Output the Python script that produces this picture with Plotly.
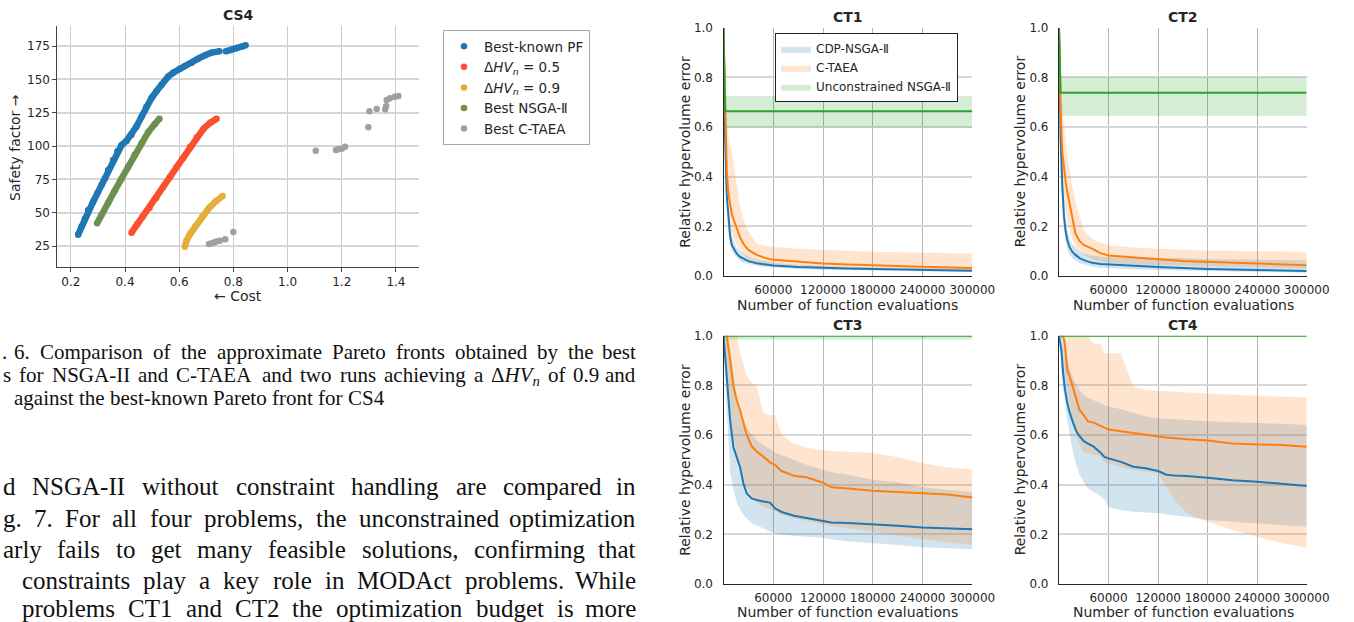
import plotly.graph_objects as go

W, H = 1354, 622

# ---------------- CS4 scatter data ----------------
pf_cost = [0.227, 0.239, 0.252, 0.264, 0.282, 0.298, 0.313, 0.326, 0.338, 0.356, 0.372, 0.387,
           0.406, 0.424, 0.442, 0.461, 0.479, 0.498, 0.516, 0.535, 0.559, 0.578, 0.602, 0.621,
           0.646, 0.670, 0.695, 0.719, 0.748, None, 0.772, 0.790, 0.812, 0.830, 0.845]
pf_safety = [33.5, 39.5, 45.5, 52, 58, 64.5, 70.5, 75.5, 82, 89.5, 96, 100.5,
             104, 108.5, 114.5, 122, 129.5, 136, 141, 146, 152, 155, 158, 160,
             162.5, 165.5, 168, 170, 171, None, 171, 172, 173.5, 174.5, 175.5]

hv05_cost = [0.424, 0.445, 0.465, 0.49, 0.515, 0.54, 0.565, 0.59, 0.615, 0.64, 0.665, 0.69, 0.715, 0.738]
hv05_safety = [35, 41.5, 47, 53.5, 61, 69, 76.5, 84, 91, 99.5, 106.5, 113, 117.5, 120.5]

hv09_cost = [0.621, 0.627, 0.64, 0.66, 0.685, 0.71, 0.735, 0.76]
hv09_safety = [24.5, 29, 34, 40, 47, 53.5, 58.5, 62.5]

nsga_cost = [0.297, 0.313, 0.338, 0.362, 0.387, 0.412, 0.436, 0.461, 0.486, 0.510, 0.527]
nsga_safety = [42, 48.5, 57.5, 66.5, 75.5, 84.5, 93.5, 102, 110.5, 116.5, 120.5]

ctaea_cost = [0.71, 0.72, 0.73, 0.74, 0.75, 0.77, 0.80, 1.104, 1.179, 1.187, 1.20, 1.212,
              1.298, 1.302, 1.329, 1.36, 1.364, 1.366, 1.378, 1.396, 1.409]
ctaea_safety = [26.5, 27, 27.8, 28.5, 29, 30, 35.5, 96.5, 97, 97.5, 98, 99.5,
                114, 126, 127.75, 127.5, 130, 134.5, 135.75, 137, 137.5]

cs4_xticks = [0.2, 0.4, 0.6, 0.8, 1.0, 1.2, 1.4]
cs4_xticklabels = ["0.2", "0.4", "0.6", "0.8", "1.0", "1.2", "1.4"]
cs4_yticks = [25, 50, 75, 100, 125, 150, 175]

# ---------------- CT convergence data ----------------
ct_xticks = [60000, 120000, 180000, 240000, 300000]
ct_xticklabels = ["60000", "120000", "180000", "240000", "300000"]
ct_yticks = [0.0, 0.2, 0.4, 0.6, 0.8, 1.0]
ct_yticklabels = ["0.0", "0.2", "0.4", "0.6", "0.8", "1.0"]

ct1_evals = [0, 2000, 4000, 6000, 8000, 10000, 13000, 16000, 20000, 25000, 30000, 40000,
             50000, 60000, 90000, 120000, 150000, 180000, 240000, 300000]
ct1_cdp = [1.0, 0.55, 0.32, 0.22, 0.16, 0.125, 0.105, 0.09, 0.077, 0.067, 0.06, 0.051,
           0.045, 0.042, 0.036, 0.032, 0.030, 0.028, 0.024, 0.021]
ct1_cdp_hi = [1.0, 0.62, 0.38, 0.27, 0.2, 0.16, 0.135, 0.115, 0.1, 0.088, 0.078, 0.066,
              0.058, 0.053, 0.045, 0.04, 0.037, 0.035, 0.031, 0.028]
ct1_cdp_lo = [1.0, 0.48, 0.27, 0.18, 0.13, 0.1, 0.085, 0.072, 0.06, 0.052, 0.047, 0.04,
              0.036, 0.033, 0.028, 0.025, 0.023, 0.021, 0.018, 0.016]
ct1_ctaea = [1.0, 0.66, 0.42, 0.33, 0.28, 0.25, 0.22, 0.19, 0.155, 0.125, 0.105, 0.085,
             0.073, 0.065, 0.056, 0.05, 0.046, 0.042, 0.037, 0.032]
ct1_ctaea_hi = [1.0, 0.72, 0.62, 0.56, 0.52, 0.5, 0.44, 0.37, 0.28, 0.22, 0.18, 0.13,
                0.122, 0.118, 0.11, 0.107, 0.102, 0.098, 0.094, 0.091]
ct1_ctaea_lo = [1.0, 0.6, 0.35, 0.25, 0.2, 0.17, 0.145, 0.125, 0.1, 0.085, 0.07, 0.058,
                0.05, 0.046, 0.04, 0.036, 0.033, 0.03, 0.026, 0.023]
ct1_unc_evals = [0, 2000, 300000]
ct1_unc = [1.0, 0.664, 0.664]
ct1_unc_band_evals = [2000, 300000]
ct1_unc_hi = [0.725, 0.725]
ct1_unc_lo = [0.597, 0.597]

ct2_evals = [0, 2000, 4000, 6000, 8000, 10000, 13000, 16000, 20000, 25000, 30000, 40000,
             50000, 60000, 90000, 120000, 150000, 180000, 240000, 300000]
ct2_cdp = [1.0, 0.55, 0.36, 0.24, 0.18, 0.145, 0.115, 0.098, 0.085, 0.072, 0.064, 0.053,
           0.048, 0.046, 0.04, 0.036, 0.032, 0.028, 0.024, 0.02]
ct2_cdp_hi = [1.0, 0.6, 0.42, 0.3, 0.23, 0.19, 0.15, 0.13, 0.115, 0.1, 0.092, 0.083,
              0.079, 0.077, 0.075, 0.074, 0.072, 0.068, 0.065, 0.063]
ct2_cdp_lo = [1.0, 0.5, 0.3, 0.2, 0.14, 0.11, 0.085, 0.072, 0.062, 0.052, 0.045, 0.037,
              0.033, 0.031, 0.027, 0.024, 0.021, 0.019, 0.016, 0.013]
ct2_ctaea = [1.0, 0.66, 0.5, 0.43, 0.38, 0.34, 0.29, 0.23, 0.17, 0.14, 0.125, 0.11,
             0.092, 0.083, 0.074, 0.067, 0.06, 0.056, 0.05, 0.043]
ct2_ctaea_hi = [1.0, 0.74, 0.69, 0.6, 0.54, 0.49, 0.42, 0.36, 0.3, 0.24, 0.185, 0.15,
                0.135, 0.124, 0.115, 0.11, 0.106, 0.103, 0.1, 0.097]
ct2_ctaea_lo = [1.0, 0.6, 0.4, 0.32, 0.26, 0.22, 0.18, 0.15, 0.12, 0.1, 0.085, 0.068,
                0.058, 0.052, 0.046, 0.043, 0.04, 0.038, 0.034, 0.03]
ct2_unc_evals = [0, 2000, 300000]
ct2_unc = [1.0, 0.738, 0.738]
ct2_unc_band_evals = [2000, 300000]
ct2_unc_hi = [0.8, 0.8]
ct2_unc_lo = [0.645, 0.645]

ct3_evals = [0, 4000, 8000, 12000, 16000, 20000, 24000, 28000, 34000, 40000, 48000, 56000,
             62000, 70000, 85000, 100000, 120000, 130000, 150000, 180000, 210000, 240000,
             270000, 300000]
ct3_cdp = [1.0, 0.81, 0.66, 0.55, 0.51, 0.47, 0.405, 0.365, 0.345, 0.338, 0.332, 0.328,
           0.305, 0.29, 0.275, 0.266, 0.252, 0.248, 0.246, 0.242, 0.235, 0.228, 0.224, 0.22]
ct3_cdp_hi = [1.0, 1.0, 0.95, 0.85, 0.75, 0.7, 0.66, 0.63, 0.6, 0.58, 0.56, 0.545,
              0.53, 0.52, 0.5, 0.48, 0.46, 0.45, 0.44, 0.42, 0.41, 0.39, 0.38, 0.372]
ct3_cdp_lo = [1.0, 0.7, 0.45, 0.38, 0.33, 0.3, 0.28, 0.265, 0.245, 0.235, 0.225, 0.21,
              0.204, 0.198, 0.193, 0.19, 0.185, 0.18, 0.172, 0.164, 0.157, 0.148, 0.143, 0.14]
ct3_ctaea = [1.0, 1.0, 0.9, 0.795, 0.74, 0.7, 0.65, 0.6, 0.555, 0.533, 0.513, 0.49,
             0.48, 0.455, 0.436, 0.43, 0.408, 0.39, 0.385, 0.376, 0.371, 0.365, 0.36, 0.348]
ct3_ctaea_hi = [1.0, 1.0, 1.0, 1.0, 1.0, 0.93, 0.88, 0.84, 0.81, 0.8, 0.69, 0.68,
                0.68, 0.6, 0.566, 0.55, 0.54, 0.535, 0.533, 0.529, 0.51, 0.486, 0.47, 0.462]
ct3_ctaea_lo = [1.0, 0.85, 0.7, 0.6, 0.52, 0.47, 0.42, 0.39, 0.35, 0.33, 0.31, 0.3,
                0.295, 0.28, 0.265, 0.255, 0.24, 0.235, 0.225, 0.21, 0.195, 0.18, 0.168, 0.157]
ct3_unc_evals = [0, 300000]
ct3_unc = [1.0, 1.0]
ct3_unc_hi = [1.0, 1.0]
ct3_unc_lo = [0.985, 0.985]

ct4_evals = [0, 3000, 5000, 7000, 10000, 13000, 17000, 21000, 25000, 30000, 35000, 42000,
             50000, 55000, 60000, 75000, 90000, 105000, 120000, 130000, 140000, 155000,
             180000, 210000, 240000, 270000, 300000]
ct4_cdp = [1.0, 0.94, 0.85, 0.79, 0.73, 0.69, 0.65, 0.615, 0.595, 0.575, 0.565, 0.553,
           0.53, 0.512, 0.506, 0.492, 0.472, 0.466, 0.455, 0.44, 0.437, 0.435,
           0.428, 0.418, 0.412, 0.403, 0.395]
ct4_cdp_hi = [1.0, 1.0, 1.0, 0.97, 0.92, 0.87, 0.83, 0.8, 0.78, 0.76, 0.75, 0.74,
              0.727, 0.72, 0.714, 0.705, 0.69, 0.675, 0.668, 0.665, 0.662, 0.66,
              0.655, 0.652, 0.65, 0.645, 0.64]
ct4_cdp_lo = [1.0, 0.85, 0.78, 0.74, 0.66, 0.6, 0.53, 0.48, 0.44, 0.41, 0.385, 0.372,
              0.355, 0.34, 0.31, 0.298, 0.291, 0.288, 0.285, 0.28, 0.275, 0.27,
              0.258, 0.25, 0.244, 0.237, 0.231]
ct4_ctaea = [1.0, 1.0, 1.0, 0.97, 0.86, 0.835, 0.79, 0.75, 0.7, 0.68, 0.655, 0.65,
             0.636, 0.63, 0.622, 0.615, 0.607, 0.598, 0.594, 0.59, 0.587, 0.583,
             0.578, 0.566, 0.562, 0.56, 0.553]
ct4_ctaea_hi = [1.0, 1.0, 1.0, 1.0, 1.0, 1.0, 1.0, 1.0, 1.0, 1.0, 1.0, 0.969,
                0.969, 0.929, 0.929, 0.929, 0.794, 0.78, 0.778, 0.776, 0.774, 0.772,
                0.768, 0.762, 0.758, 0.755, 0.752]
ct4_ctaea_lo = [1.0, 1.0, 1.0, 0.85, 0.78, 0.72, 0.66, 0.6, 0.56, 0.53, 0.525, 0.52,
                0.515, 0.49, 0.483, 0.47, 0.459, 0.452, 0.446, 0.392, 0.338, 0.284,
                0.251, 0.217, 0.19, 0.164, 0.146]
ct4_unc_evals = [0, 300000]
ct4_unc = [1.0, 1.0]
ct4_unc_hi = [1.0, 1.0]
ct4_unc_lo = [0.994, 0.994]

# ---------------- text of the page ----------------
caption_lines = [
    "6.  Comparison of the approximate Pareto fronts obtained by the best",
    "s for NSGA-II and C-TAEA and two runs achieving a ΔHVn of 0.9 and",
    "against the best-known Pareto front for CS4",
]
body_lines = [
    "d NSGA-II without constraint handling are compared in",
    "g. 7. For all four problems, the unconstrained optimization",
    "arly fails to get many feasible solutions, confirming that",
    "constraints play a key role in MODAct problems. While",
    "problems CT1 and CT2 the optimization budget is more",
]

# ---------------- colours ----------------
C_BLUE, C_ORANGE, C_GREEN = "#1f77b4", "#ff7f0e", "#2ca02c"
F_BLUE, F_ORANGE, F_GREEN = "rgba(31,119,180,0.2)", "rgba(255,127,14,0.2)", "rgba(44,160,44,0.2)"
CS_BLUE, CS_RED, CS_YELLOW, CS_GREEN, CS_GRAY = "#1f77b4", "#fc4f30", "#e5ae38", "#6d904f", "#a0a0a0"
TXT = "#262626"


def px_x(p):
    return p / W


def px_y(p):
    return 1 - p / H


fig = go.Figure()

# ---------------- CS4 ----------------
cs4_series = [
    ("Best-known PF", pf_cost, pf_safety, CS_BLUE),
    ("Δ<i>HV</i><sub><i>n</i></sub> = 0.5", hv05_cost, hv05_safety, CS_RED),
    ("Δ<i>HV</i><sub><i>n</i></sub> = 0.9", hv09_cost, hv09_safety, CS_YELLOW),
    ("Best NSGA-Ⅱ", nsga_cost, nsga_safety, CS_GREEN),
]
for name, xs, ys, col in cs4_series:
    fig.add_trace(go.Scatter(x=xs, y=ys, mode="lines", line=dict(color=col, width=6.5),
                             showlegend=False, hoverinfo="skip", xaxis="x", yaxis="y"))
    fig.add_trace(go.Scatter(x=xs, y=ys, mode="markers", name=name,
                             marker=dict(color=col, size=6.5, line=dict(width=0)),
                             legend="legend", xaxis="x", yaxis="y"))
fig.add_trace(go.Scatter(x=ctaea_cost, y=ctaea_safety, mode="markers", name="Best C-TAEA",
                         marker=dict(color=CS_GRAY, size=6.5, line=dict(width=0)),
                         legend="legend", xaxis="x", yaxis="y"))

# ---------------- CT panels ----------------
def band(xs, lo, hi, fill, xa, ya, name=None, show=False):
    fig.add_trace(go.Scatter(x=list(xs) + list(xs)[::-1], y=list(hi) + list(lo)[::-1],
                             fill="toself", fillcolor=fill, line=dict(width=0), mode="lines",
                             hoverinfo="skip", name=name, showlegend=show, legend="legend2",
                             xaxis=xa, yaxis=ya))


def line(xs, ys, col, xa, ya):
    fig.add_trace(go.Scatter(x=xs, y=ys, mode="lines", line=dict(color=col, width=2),
                             showlegend=False, hoverinfo="skip", xaxis=xa, yaxis=ya))


panels = [
    ("x2", "y2", ct1_evals, ct1_cdp, ct1_cdp_lo, ct1_cdp_hi, ct1_ctaea, ct1_ctaea_lo, ct1_ctaea_hi,
     ct1_unc_evals, ct1_unc, ct1_unc_band_evals, ct1_unc_lo, ct1_unc_hi, True),
    ("x3", "y3", ct2_evals, ct2_cdp, ct2_cdp_lo, ct2_cdp_hi, ct2_ctaea, ct2_ctaea_lo, ct2_ctaea_hi,
     ct2_unc_evals, ct2_unc, ct2_unc_band_evals, ct2_unc_lo, ct2_unc_hi, False),
    ("x4", "y4", ct3_evals, ct3_cdp, ct3_cdp_lo, ct3_cdp_hi, ct3_ctaea, ct3_ctaea_lo, ct3_ctaea_hi,
     ct3_unc_evals, ct3_unc, ct3_unc_evals, ct3_unc_lo, ct3_unc_hi, False),
    ("x5", "y5", ct4_evals, ct4_cdp, ct4_cdp_lo, ct4_cdp_hi, ct4_ctaea, ct4_ctaea_lo, ct4_ctaea_hi,
     ct4_unc_evals, ct4_unc, ct4_unc_evals, ct4_unc_lo, ct4_unc_hi, False),
]
for (xa, ya, ev, cdp, cdp_lo, cdp_hi, ct, ct_lo, ct_hi, uev, unc, ubev, u_lo, u_hi, leg) in panels:
    band(ev, cdp_lo, cdp_hi, F_BLUE, xa, ya, "CDP-NSGA-Ⅱ", leg)
    band(ev, ct_lo, ct_hi, F_ORANGE, xa, ya, "C-TAEA", leg)
    band(ubev, u_lo, u_hi, F_GREEN, xa, ya, "Unconstrained NSGA-Ⅱ", leg)
    line(ev, cdp, C_BLUE, xa, ya)
    line(ev, ct, C_ORANGE, xa, ya)
    line(uev, unc, C_GREEN, xa, ya)

# ---------------- axes ----------------
tickfont = dict(family="DejaVu Sans", size=12, color=TXT)
layout_axes = {}
layout_axes["xaxis"] = dict(domain=[px_x(57), px_x(419)], range=[0.149, 1.485], anchor="y",
                            tickvals=cs4_xticks, ticktext=cs4_xticklabels, showgrid=True,
                            gridcolor="#cccccc", gridwidth=1, showline=True, linecolor="#444444",
                            linewidth=1.3, ticks="outside", ticklen=3.5, tickcolor="#444444",
                            tickfont=tickfont, zeroline=False, fixedrange=True, automargin=False)
layout_axes["yaxis"] = dict(domain=[px_y(267), px_y(26)], range=[9.25, 190], anchor="x",
                            tickvals=cs4_yticks, showgrid=True, gridcolor="#d6d6d6", gridwidth=1.6,
                            showline=True, linecolor="#444444", linewidth=1.3, ticks="outside",
                            ticklen=3.5, tickcolor="#444444", tickfont=tickfont, zeroline=False,
                            fixedrange=True, automargin=False)
ct_geom = {
    "2": ([723.5, 972.3], [276, 27.7]),
    "3": ([1059, 1306.7], [276, 27.7]),
    "4": ([723.5, 972.3], [584, 335.7]),
    "5": ([1059, 1306.7], [584, 335.7]),
}
for k, (xd, yd) in ct_geom.items():
    layout_axes["xaxis" + k] = dict(domain=[px_x(xd[0]), px_x(xd[1])], range=[0, 300000],
                                    anchor="y" + k, tickvals=ct_xticks, ticktext=ct_xticklabels,
                                    showgrid=True, gridcolor="#b5b5b5", gridwidth=1, showline=True,
                                    linecolor="#262626", linewidth=1.2, ticks="", tickfont=tickfont,
                                    ticklabelstandoff=2, zeroline=False, fixedrange=True,
                                    automargin=False)
    layout_axes["yaxis" + k] = dict(domain=[px_y(yd[0]), px_y(yd[1])], range=[0, 1],
                                    anchor="x" + k, tickvals=ct_yticks, ticktext=ct_yticklabels,
                                    showgrid=True, gridcolor="#d6d6d6", gridwidth=1.6, showline=True,
                                    linecolor="#262626", linewidth=1.2, ticks="", tickfont=tickfont,
                                    ticklabelstandoff=7, zeroline=False, fixedrange=True,
                                    automargin=False)

# ---------------- annotations: titles & labels ----------------
ann = []
for txt, cx, cy in [("CS4", 238, 15), ("CT1", 848, 17), ("CT2", 1183, 17),
                    ("CT3", 848, 325), ("CT4", 1183, 325)]:
    ann.append(dict(text="<b>%s</b>" % txt, x=px_x(cx), y=px_y(cy), xref="paper", yref="paper",
                    showarrow=False, xanchor="center", yanchor="middle",
                    font=dict(family="DejaVu Sans", size=14, color=TXT)))
lab_font = dict(family="DejaVu Sans", size=14, color=TXT)
ann.append(dict(text="← Cost", x=px_x(238), y=px_y(296), xref="paper", yref="paper",
                showarrow=False, xanchor="center", yanchor="middle", font=lab_font))
ann.append(dict(text="Safety factor →", x=px_x(15), y=px_y(148), xref="paper", yref="paper",
                showarrow=False, xanchor="center", yanchor="middle", textangle=-90, font=lab_font))
for cx, cy in [(848, 305), (1183, 305), (848, 612), (1183, 612)]:
    ann.append(dict(text="Number of function evaluations", x=px_x(cx), y=px_y(cy), xref="paper",
                    yref="paper", showarrow=False, xanchor="center", yanchor="middle", font=lab_font))
for cx, cy in [(685, 151.85), (1019.5, 151.85), (685, 459.85), (1019.5, 459.85)]:
    ann.append(dict(text="Relative hypervolume error", x=px_x(cx), y=px_y(cy), xref="paper",
                    yref="paper", showarrow=False, xanchor="center", yanchor="middle",
                    textangle=-90, font=lab_font))

# ---------------- page text (justified, Times metrics) ----------------
TIMES = {' ': 250, ',': 250, '-': 333, '.': 250, ':': 278, ';': 278,
         'A': 722, 'B': 667, 'C': 667, 'D': 722, 'E': 611, 'F': 556, 'G': 722, 'H': 722,
         'I': 333, 'J': 389, 'K': 722, 'L': 611, 'M': 889, 'N': 722, 'O': 722, 'P': 556,
         'Q': 722, 'R': 667, 'S': 556, 'T': 611, 'U': 722, 'V': 722, 'W': 944, 'X': 722,
         'Y': 722, 'Z': 611, 'a': 444, 'b': 500, 'c': 444, 'd': 500, 'e': 444, 'f': 333,
         'g': 500, 'h': 500, 'i': 278, 'j': 278, 'k': 500, 'l': 278, 'm': 778, 'n': 500,
         'o': 500, 'p': 500, 'q': 500, 'r': 333, 's': 389, 't': 278, 'u': 500, 'v': 500,
         'w': 722, 'x': 500, 'y': 500, 'z': 444}
MATH = {"ΔHVn": ("Δ<i>HV</i><sub><i>n</i></sub>", 2.29)}


def word_width(w, fs):
    if w in MATH:
        return MATH[w][1] * fs
    return sum(TIMES.get(c, 500) for c in w) / 1000.0 * fs


def place_line(text, left, right, baseline, fs, justify):
    words = text.split()
    widths = [word_width(w, fs) for w in words]
    if justify and len(words) > 1:
        gap = (right - left - sum(widths)) / (len(words) - 1)
    else:
        gap = 0.25 * fs
    ytop = baseline - 0.891 * fs - 1
    x = left
    for i, (w, wd) in enumerate(zip(words, widths)):
        label = MATH[w][0] if w in MATH else w
        last = justify and i == len(words) - 1 and len(words) > 1
        ann.append(dict(text=label, x=px_x(right if last else x), y=px_y(ytop), xref="paper",
                        yref="paper", showarrow=False, xanchor="right" if last else "left",
                        yanchor="top", borderpad=0,
                        font=dict(family="Liberation Serif", size=fs, color="#111111")))
        x += wd + gap


CAP_FS, BODY_FS = 21, 25
cap_geom = [(13.3, 637, 358.3, True), (1.7, 637, 381.7, True), (13.3, 637, 404.5, False)]
for t, (l, r, b, j) in zip(caption_lines, cap_geom):
    place_line(t, l, r, b, CAP_FS, j)
place_line(".", 1.0, 637, 358.3, CAP_FS, False)
body_geom = [(1.7, 637, 495.7), (1.7, 637, 527.3), (1.7, 637, 558.3), (20.7, 637, 589.0),
             (20.7, 637, 617.0)]
for t, (l, r, b) in zip(body_lines, body_geom):
    place_line(t, l, r, b, BODY_FS, True)

fig.update_layout(
    width=W, height=H, autosize=False,
    margin=dict(l=0, r=0, t=0, b=0, pad=0, autoexpand=False),
    paper_bgcolor="white", plot_bgcolor="white",
    font=dict(family="DejaVu Sans", size=12, color=TXT),
    showlegend=True,
    legend=dict(x=px_x(443), y=px_y(30), xanchor="left", yanchor="top", bgcolor="white",
                bordercolor="#a8a8a8", borderwidth=1,
                font=dict(family="DejaVu Sans", size=13.5, color=TXT), itemclick=False,
                itemdoubleclick=False, tracegroupgap=0),
    legend2=dict(x=px_x(775), y=px_y(33.3), xanchor="left", yanchor="top", bgcolor="white",
                 bordercolor="#222222", borderwidth=1,
                 font=dict(family="DejaVu Sans", size=12, color=TXT), itemclick=False,
                 itemdoubleclick=False, tracegroupgap=0),
    annotations=ann,
    hovermode=False,
    **layout_axes,
)

page_css = ("document.documentElement.style.margin='0';document.body.style.margin='0';"
            "document.body.style.padding='0';document.body.style.overflow='hidden';"
            "document.documentElement.style.overflow='hidden';")
fig.write_html("out.html", config={"displayModeBar": False}, post_script=page_css)
